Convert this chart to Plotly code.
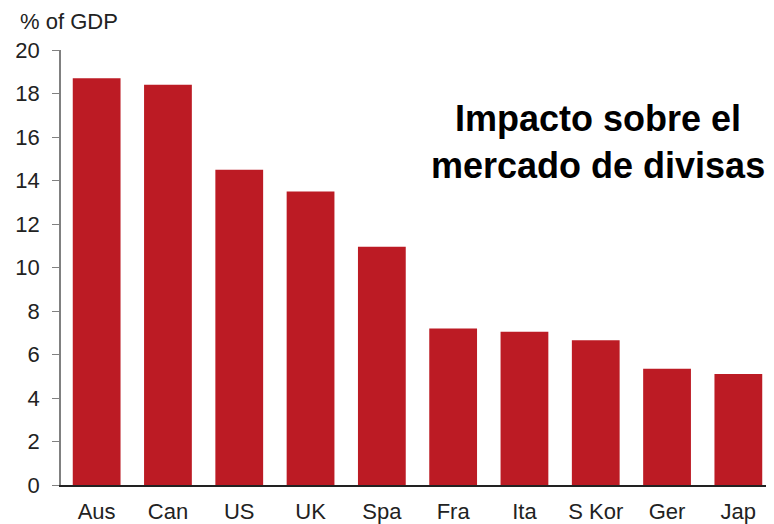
import plotly.graph_objects as go

countries = ["Aus", "Can", "US", "UK", "Spa", "Fra", "Ita", "S Kor", "Ger", "Jap"]
pct_gdp = [18.7, 18.4, 14.5, 13.5, 10.95, 7.2, 7.05, 6.65, 5.35, 5.1]
y_ticks = [0, 2, 4, 6, 8, 10, 12, 14, 16, 18, 20]

fig = go.Figure(go.Bar(
    x=countries,
    y=pct_gdp,
    marker=dict(color="#BC1B24", line=dict(width=0)),
))

# page body has an 8px margin, so the figure is drawn 8px smaller
fig.update_layout(
    width=766,
    height=516,
    margin=dict(l=53, r=0, t=42, b=39),
    plot_bgcolor="white",
    paper_bgcolor="white",
    font=dict(family="Liberation Sans, Arial", size=22, color="#222222"),
    bargap=0.33,
    showlegend=False,
)
fig.update_xaxes(
    showline=True, linecolor="#222222", linewidth=1.5,
    ticks="", ticklabelstandoff=6,
    showgrid=False, automargin=False,
)
fig.update_yaxes(
    range=[0, 20], tickvals=y_ticks,
    showline=True, linecolor="#808080", linewidth=1.5,
    ticks="outside", ticklen=7, tickcolor="#808080", tickwidth=1,
    ticklabelstandoff=8,
    showgrid=False, zeroline=False, automargin=False,
)

fig.add_annotation(
    text="% of GDP", xref="paper", yref="paper", x=-0.06, y=1.0,
    xanchor="left", yanchor="bottom", yshift=14, showarrow=False,
    font=dict(size=22, color="#222222"),
)
fig.add_annotation(
    text="<b>Impacto sobre el<br>mercado de divisas</b>",
    xref="paper", yref="paper", x=0.753, y=0.894,
    xanchor="center", yanchor="top", showarrow=False,
    font=dict(size=36, color="black", family="Liberation Sans, Arial"),
)

fig.write_html("out.html")
